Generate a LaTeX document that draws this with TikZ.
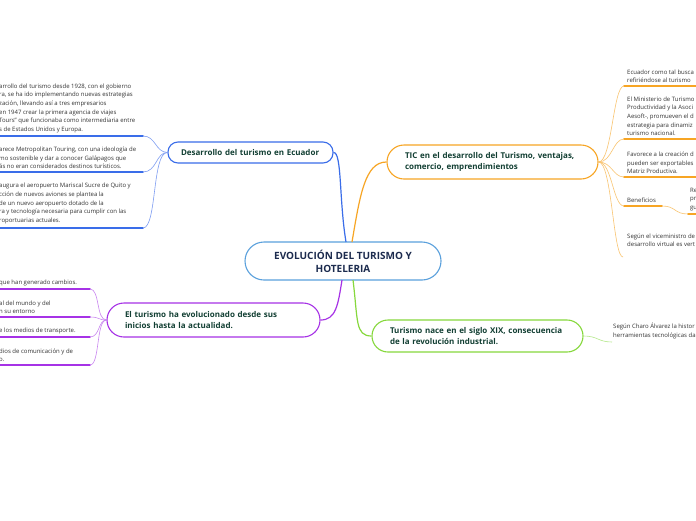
\documentclass[tikz,border=0pt]{standalone}
\usepackage{fontspec}
\setmainfont{Open Sans}
\definecolor{rootc}{HTML}{5AA0DC}
\definecolor{bluec}{HTML}{3A6DE9}
\definecolor{bluel}{HTML}{7F9EF2}
\definecolor{orac}{HTML}{F7A524}
\definecolor{oral}{HTML}{F9C470}
\definecolor{purc}{HTML}{A632E6}
\definecolor{purl}{HTML}{C986F0}
\definecolor{grec}{HTML}{86D83C}
\definecolor{grel}{HTML}{B4E88A}
\definecolor{navy}{HTML}{1C2B4E}
\definecolor{nodetext}{HTML}{123F33}
\definecolor{leaftext}{HTML}{333333}
\tikzset{
  box/.style={draw, fill=white, line width=1.1pt, font=\bfseries\fontsize{8}{11.5}\selectfont, text=nodetext, align=left, inner ysep=0pt, inner xsep=18pt},
  leaf/.style={font=\fontsize{6}{8.6}\selectfont, text=leaftext, align=left, inner sep=0pt, anchor=south west},
  uline/.style={line width=1.8pt, line cap=round},
  conn/.style={line width=0.6pt},
  branch/.style={line width=1.2pt}
}
\begin{document}
\begin{tikzpicture}[x=1pt,y=-1pt]
\clip (0,0) rectangle (696,520);
\fill[white] (0,0) rectangle (696,520);

% main nodes
\node[box, draw=rootc, inner xsep=0pt, minimum width=196pt, minimum height=38pt, rounded corners=19pt, text=navy, align=center, font=\bfseries\fontsize{10}{13}\selectfont] (root) at (343,261) {EVOLUCIÓN DEL TURISMO Y\\HOTELERIA};
\node[box, draw=bluec, inner xsep=13pt, text width=139pt, minimum height=21pt, rounded corners=10pt] (desa) at (250.5,152.5) {Desarrollo del turismo en Ecuador};
\node[box, draw=orac, text width=175pt, minimum height=34pt, rounded corners=17pt] (tic) at (492.5,162) {TIC en el desarrollo del Turismo, ventajas,\\comercio, emprendimientos};
\node[box, draw=purc, text width=177pt, minimum height=34pt, rounded corners=17pt] (evol) at (213.5,320) {El turismo ha evolucionado desde sus\\inicios hasta la actualidad.};
\node[box, draw=grec, text width=175pt, minimum height=32pt, rounded corners=16pt] (nace) at (477.5,336) {Turismo nace en el siglo XIX, consecuencia\\de la revolución industrial.};

% branch connectors
\coordinate (rb) at (346,242);
\coordinate (ro) at (352,242);
\coordinate (rp) at (342,280);
\coordinate (rg) at (353,280);
\draw[branch, bluec] (desa.east) .. controls (342,152) and (339,200) .. (rb);
\draw[branch, orac] (ro) .. controls (360,195) and (365,162) .. (tic.west);
\draw[branch, purc] (rp) .. controls (338,305) and (336,320) .. (evol.east);
\draw[branch, grec] (rg) .. controls (358,320) and (355,336) .. (nace.west);

% blue leaves
\node[leaf] (b1) at (-1,133) {arrollo del turismo desde 1928, con el gobierno\\ra, se ha ido implementando nuevas estrategias\\zación, llevando así a tres empresarios\\en 1947 crear la primera agencia de viajes\\Tours” que funcionaba como intermediaria entre\\s de Estados Unidos y Europa.};
\node[leaf] (b2) at (-1,169) {arece Metropolitan Touring, con una ideología de\\mo sostenible y dar a conocer Galápagos que\\ás no eran considerados destinos turísticos.};
\node[leaf] (b3) at (-1,224) {augura el aeropuerto Mariscal Sucre de Quito y\\cción de nuevos aviones se plantea la\\de un nuevo aeropuerto dotado de la\\ra y tecnología necesaria para cumplir con las\\roportuarias actuales.};
\coordinate (ub1) at (143,136);
\coordinate (ub2) at (143,172);
\coordinate (ub3) at (143,228);
\foreach \u in {ub1,ub2,ub3}{\draw[uline, bluec] (-5,0 |- \u) -- (\u);}
\draw[conn, bluel] (desa.west) .. controls (155,152) and (156,136) .. (ub1);
\draw[conn, bluel] (desa.west) .. controls (156,152) and (157,172) .. (ub2);
\draw[conn, bluel] (desa.west) .. controls (152,152) and (157,228) .. (ub3);

% purple leaves
\node[leaf] (p1) at (-1,286) {que han generado cambios.};
\node[leaf] (p2) at (-1,314) {al del mundo y del\\n su entorno};
\node[leaf] (p3) at (-1,334) {e los medios de transporte.};
\node[leaf] (p4) at (-1,362) {dios de comunicación y de\\o.};
\coordinate (up1) at (90,289);
\coordinate (up2) at (90,317);
\coordinate (up3) at (90,337);
\coordinate (up4) at (90,365);
\foreach \u in {up1,up2,up3,up4}{\draw[uline, purc] (-5,0 |- \u) -- (\u);}
\draw[conn, purl] (evol.west) .. controls (96,320) and (100,289) .. (up1);
\draw[conn, purl] (evol.west) .. controls (98,320) and (100,317) .. (up2);
\draw[conn, purl] (evol.west) .. controls (98,320) and (100,337) .. (up3);
\draw[conn, purl] (evol.west) .. controls (96,320) and (100,365) .. (up4);

% orange leaves
\node[leaf] (o1) at (627,83) {Ecuador como tal busca\\refiriéndose al turismo};
\node[leaf] (o2) at (627,136) {El Ministerio de Turismo\\Productividad y la Asoci\\Aesoft-, promueven el d\\estrategia para dinamiz\\turismo nacional.};
\node[leaf] (o3) at (627,174) {Favorece a la creación d\\pueden ser exportables\\Matriz Productiva.};
\node[leaf] (o4) at (627,203) {Beneficios};
\node[leaf] (o5) at (690,211) {Re\\pr\\gu};
\node[leaf] (o6) at (627,247) {Según el viceministro de\\desarrollo virtual es vert};
\coordinate (uo1) at (624,86);
\coordinate (uo2) at (624,139);
\coordinate (uo3) at (624,177);
\coordinate (uo4) at (624,206);
\coordinate (uo4e) at (662,206);
\coordinate (uo5) at (688,214);
\coordinate (uo6) at (623,257);
\draw[uline, orac] (uo1) -- (700,86);
\draw[uline, orac] (uo2) -- (700,139);
\draw[uline, orac] (uo3) -- (700,177);
\draw[uline, orac] (uo4) -- (uo4e);
\draw[uline, orac] (uo5) -- (700,214);
\draw[conn, oral] (uo4e) .. controls (676,206) and (674,214) .. (uo5);
\foreach \u in {uo1,uo2,uo3,uo4,uo6}{\draw[conn, oral] (tic.east) .. controls (612,162) and (613,0 |- \u) .. (\u);}

% green leaf
\node[leaf] (g1) at (613,339) {Según Charo Álvarez la histor\\herramientas tecnológicas da};
\coordinate (ug1) at (612,342);
\draw[conn, grel] (nace.east) .. controls (598,336) and (598,342) .. (ug1);
\end{tikzpicture}
\end{document}
